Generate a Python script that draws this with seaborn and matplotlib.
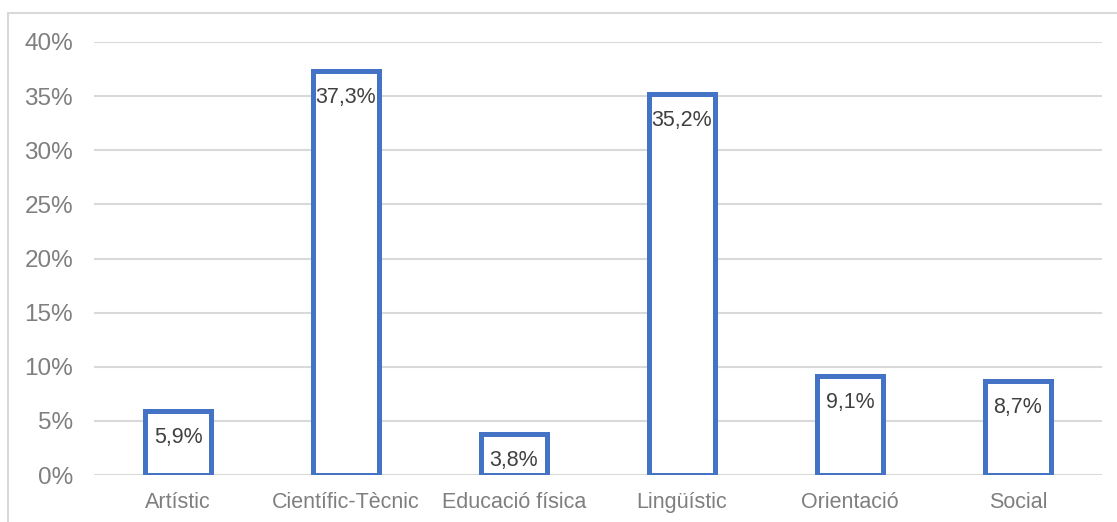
import matplotlib
matplotlib.use("Agg")
import matplotlib.pyplot as plt
from matplotlib.patches import Rectangle
from matplotlib.ticker import FuncFormatter, MultipleLocator
import seaborn as sns
import pandas as pd

categories = ["Artístic", "Científic-Tècnic", "Educació física", "Lingüístic", "Orientació", "Social"]
values = [5.9, 37.3, 3.8, 35.2, 9.1, 8.7]
labels = ["5,9%", "37,3%", "3,8%", "35,2%", "9,1%", "8,7%"]

sns.set_theme(style="white")
plt.rcParams["font.family"] = ["Liberation Sans", "DejaVu Sans"]

W, H = 1117, 522
fig = plt.figure(figsize=(W / 100, H / 100), dpi=100)
ax = fig.add_axes([94 / W, (H - 475) / H, (1102 - 94) / W, (475 - 42) / H])

df = pd.DataFrame({"cat": categories, "val": values})
sns.barplot(data=df, x="cat", y="val", ax=ax, color="white", saturation=1,
            edgecolor="#4472C4", linewidth=3.6, width=0.39, zorder=2)
for p in ax.patches:
    p.set_joinstyle("miter")

for p, txt in zip(ax.patches, labels):
    x = p.get_x() + p.get_width() / 2
    ax.annotate(txt, (x, p.get_height()), xytext=(0, -19), textcoords="offset points",
                ha="center", va="center", fontsize=15.5, color="#404040", zorder=3)

ax.set_ylim(0, 40)
ax.set_xlim(-0.5, len(categories) - 0.5)
ax.yaxis.set_major_locator(MultipleLocator(5))
ax.yaxis.set_major_formatter(FuncFormatter(lambda v, _: f"{v:.0f}%"))
ax.grid(axis="y", color="#d9d9d9", linewidth=1.5, zorder=0)
ax.set_axisbelow(True)
for s in ax.spines.values():
    s.set_visible(False)
ax.set_xlabel("")
ax.set_ylabel("")
ax.tick_params(axis="y", length=0, pad=15, labelsize=17.5, labelcolor="#7f7f7f")
ax.tick_params(axis="x", length=0, pad=12, labelsize=15.5, labelcolor="#7f7f7f")

# chart area frame
fig.patches.append(Rectangle((7.5 / W, -0.05), 1.2, 1.05 - 12.5 / H,
                             transform=fig.transFigure, fill=False,
                             edgecolor="#d9d9d9", linewidth=1.5))

fig.savefig("out.png", dpi=100, facecolor="white")
